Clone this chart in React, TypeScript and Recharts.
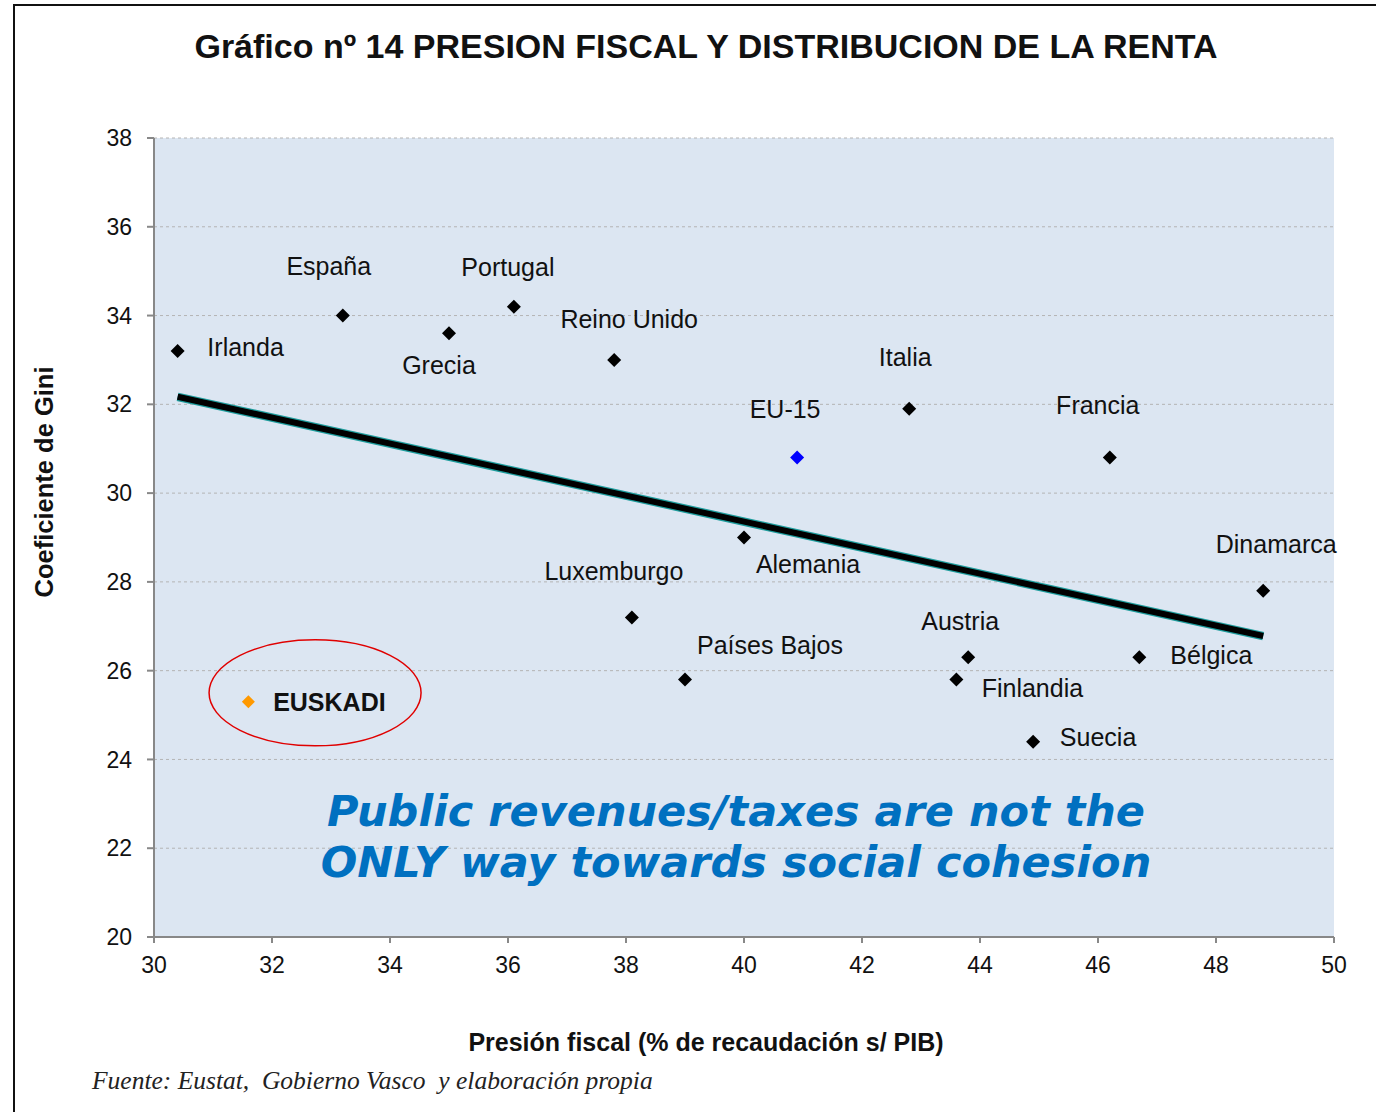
import React from "react"
import {
  ScatterChart,
  Scatter,
  XAxis,
  YAxis,
  CartesianGrid,
  ReferenceLine,
  ReferenceDot,
} from "recharts"

// Countries (presión fiscal %, Gini)
const COUNTRY_NAMES = [
  "Irlanda", "España", "Grecia", "Portugal", "Reino Unido", "Italia", "Francia",
  "Alemania", "Dinamarca", "Luxemburgo", "Países Bajos", "Austria", "Finlandia",
  "Bélgica", "Suecia",
]
const COUNTRY_TAX = [30.4, 33.2, 35.0, 36.1, 37.8, 42.8, 46.2, 40.0, 48.8, 38.1, 39.0, 43.8, 43.6, 46.7, 44.9]
const COUNTRY_GINI = [33.2, 34.0, 33.6, 34.2, 33.0, 31.9, 30.8, 29.0, 27.8, 27.2, 25.8, 26.3, 25.8, 26.3, 24.4]

const EU_NAME = "EU-15"
const EU_TAX = 40.9
const EU_GINI = 30.8

const EUSKADI_NAME = "EUSKADI"
const EUSKADI_TAX = 31.6
const EUSKADI_GINI = 25.3

// linear trend end points
const TREND_TAX = [30.4, 48.8]
const TREND_GINI = [32.17, 26.78]

const X_TICKS = [30, 32, 34, 36, 38, 40, 42, 44, 46, 48, 50]
const Y_TICKS = [20, 22, 24, 26, 28, 30, 32, 34, 36, 38]

// label placement relative to the marker, in pixels
const LABEL_OFFSET = {
  Irlanda: [68, -4],
  "España": [-14, -50],
  Grecia: [-10, 32],
  Portugal: [-6, -40],
  "Reino Unido": [15, -41],
  Italia: [-4, -52],
  Francia: [-12, -53],
  Alemania: [64, 26],
  Dinamarca: [13, -47],
  Luxemburgo: [-18, -46],
  "Países Bajos": [85, -35],
  Austria: [-8, -36],
  Finlandia: [76, 8],
  "Bélgica": [72, -2],
  Suecia: [65, -5],
  "EU-15": [-12, -49],
  EUSKADI: [81, 0],
}

const countryData = COUNTRY_NAMES.map((name, i) => ({ name, x: COUNTRY_TAX[i], y: COUNTRY_GINI[i] }))
const euData = [{ name: EU_NAME, x: EU_TAX, y: EU_GINI }]
const euskadiData = [{ name: EUSKADI_NAME, x: EUSKADI_TAX, y: EUSKADI_GINI }]

const FONT = "'Liberation Sans', Arial, sans-serif"

const makeMarker = (color, bold = false, half = 7) => (props) => {
  const { cx, cy, payload } = props
  const off = LABEL_OFFSET[payload.name] || [0, 0]
  return (
    <g>
      <path
        d={`M${cx},${cy - half}L${cx + half},${cy}L${cx},${cy + half}L${cx - half},${cy}Z`}
        fill={color}
      />
      <text
        x={cx + off[0]}
        y={cy + off[1]}
        textAnchor="middle"
        dominantBaseline="central"
        fontFamily={FONT}
        fontSize={25}
        fontWeight={bold ? "bold" : "normal"}
        fill="#111"
      >
        {payload.name}
      </text>
    </g>
  )
}

const Ellipse = ({ cx, cy }) => (
  <ellipse cx={cx} cy={cy} rx={106} ry={53} fill="none" stroke="#e00000" strokeWidth={1.5} />
)

export default function App() {
  const trend = [
    { x: TREND_TAX[0], y: TREND_GINI[0] },
    { x: TREND_TAX[1], y: TREND_GINI[1] },
  ]
  return (
    <div style={{ position: "absolute", left: 0, top: 0, width: 1376, height: 1112, overflow: "hidden", background: "#fff" }}>
      {/* frame */}
      <div style={{ position: "absolute", left: 13, top: 4, width: 1500, height: 1300, border: "2.5px solid #111" }} />

      <div style={{ position: "absolute", left: 0, top: 27, width: 1412, textAlign: "center", fontFamily: FONT, fontWeight: "bold", fontSize: 34, color: "#111" }}>
        Gráfico nº 14 PRESION FISCAL Y DISTRIBUCION DE LA RENTA
      </div>

      <div style={{ position: "absolute", left: 0, top: 0 }}>
        <ScatterChart width={1376} height={1112} margin={{ top: 138, right: 42, left: 74, bottom: 115 }}>
          <CartesianGrid horizontal vertical={false} fill="#dce6f2" stroke="#b4b4b4" strokeDasharray="3 3" />
          <XAxis
            type="number"
            dataKey="x"
            domain={[30, 50]}
            ticks={X_TICKS}
            height={60}
            tickSize={6}
            tickMargin={14}
            stroke="#888"
            strokeWidth={2}
            tick={{ fill: "#111", fontSize: 23, fontFamily: FONT }}
          />
          <YAxis
            type="number"
            dataKey="y"
            domain={[20, 38]}
            ticks={Y_TICKS}
            width={80}
            tickSize={7}
            tickMargin={15}
            stroke="#888"
            strokeWidth={2}
            tick={{ fill: "#111", fontSize: 23, fontFamily: FONT }}
          />
          <ReferenceLine segment={trend} stroke="#1c9c9c" strokeWidth={8.5} />
          <ReferenceLine segment={trend} stroke="#000" strokeWidth={6} />
          <ReferenceDot x={32.73} y={25.5} shape={Ellipse} />
          <Scatter data={countryData} shape={makeMarker("#000")} isAnimationActive={false} />
          <Scatter data={euData} shape={makeMarker("#0000ff")} isAnimationActive={false} />
          <Scatter data={euskadiData} shape={makeMarker("#ff9900", true, 6.5)} isAnimationActive={false} />
        </ScatterChart>
      </div>

      <div style={{ position: "absolute", left: 44, top: 482, width: 0, height: 0 }}>
        <div style={{ position: "absolute", transform: "translate(-50%, -50%) rotate(-90deg)", whiteSpace: "nowrap", fontFamily: FONT, fontWeight: "bold", fontSize: 25.5, color: "#111" }}>
          Coeficiente de Gini
        </div>
      </div>

      <div style={{ position: "absolute", left: 0, top: 1028, width: 1412, textAlign: "center", fontFamily: FONT, fontWeight: "bold", fontSize: 25, color: "#111" }}>
        Presión fiscal (% de recaudación s/ PIB)
      </div>

      <div style={{ position: "absolute", left: 92, top: 1066, fontFamily: "'Liberation Serif', serif", fontStyle: "italic", fontSize: 25.5, color: "#222", whiteSpace: "pre" }}>
        Fuente: Eustat,  Gobierno Vasco  y elaboración propia
      </div>

      <div style={{ position: "absolute", left: 300, top: 786, width: 872, textAlign: "center", fontFamily: "'DejaVu Sans', Verdana, sans-serif", fontWeight: "bold", fontStyle: "italic", fontSize: 43, lineHeight: "51px", color: "#0070c0", whiteSpace: "nowrap" }}>
        Public revenues/taxes are not the
        <br />
        ONLY way towards social cohesion
      </div>
    </div>
  )
}
